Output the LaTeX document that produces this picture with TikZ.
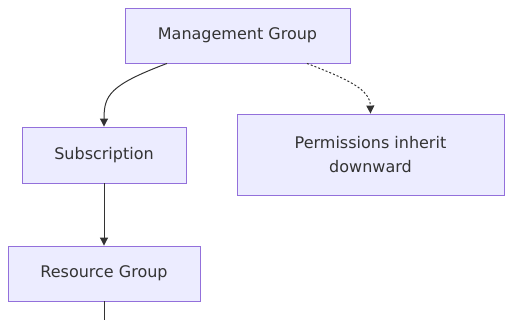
\documentclass[tikz,border=0pt]{standalone}
\usepackage{fontspec}
\setmainfont{DejaVu Sans}
\usetikzlibrary{arrows.meta}
\definecolor{boxfill}{HTML}{ECECFF}
\definecolor{boxdraw}{HTML}{9370DB}
\definecolor{ink}{HTML}{333333}
\tikzset{
  box/.style={draw=boxdraw, fill=boxfill, line width=0.9pt, rectangle, inner sep=0pt,
    text=ink, font=\fontsize{16}{24.5}\selectfont, align=center},
  link/.style={draw=ink, line width=1pt, -{Triangle[length=8pt,width=8pt]}},
  dottedlink/.style={link, dash pattern=on 2pt off 2pt}
}
\begin{document}
\begin{tikzpicture}[x=1pt,y=-1pt]
\useasboundingbox (0,0) rectangle (512,320);
\node[box, minimum width=225pt, minimum height=55pt] (mg) at (237.5,35.5) {Management Group};
\node[box, minimum width=164pt, minimum height=56pt] (sub) at (104,155) {Subscription};
\node[box, minimum width=267pt, minimum height=81pt] (perm) at (370.5,154.5) {Permissions inherit\\downward};
\node[box, minimum width=192pt, minimum height=55pt] (rg) at (104,273.5) {Resource Group};
\coordinate (out) at (104,322);
\draw[link] (mg.south -| 167,0) .. controls (110,85) and (104,95) .. (sub.north);
\draw[dottedlink] (mg.south -| 307,0) .. controls (350,80) and (370,90) .. (perm.north);
\draw[link] (sub) -- (rg);
\draw[draw=ink, line width=1pt] (rg) -- (out);
\end{tikzpicture}
\end{document}
